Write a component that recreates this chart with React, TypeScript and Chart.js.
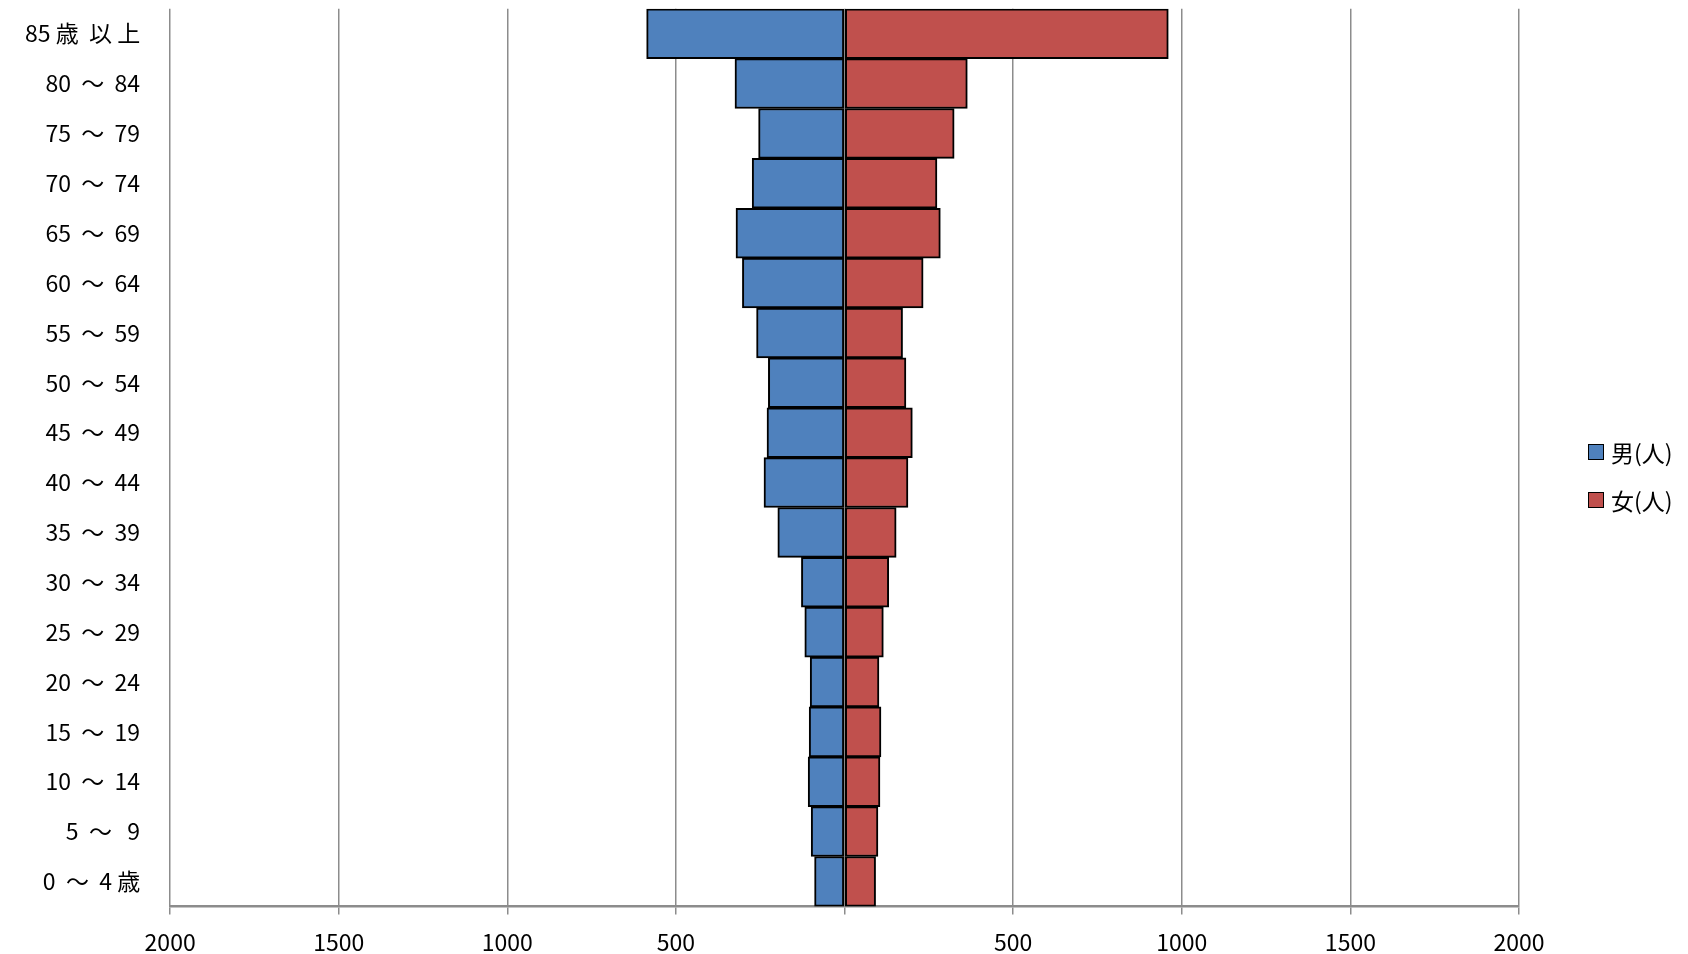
import React, { useEffect, useRef } from "react";
import { Chart, registerables } from "chart.js";
Chart.register(...registerables);

const categories = ["85 歳  以 上","80  ～  84","75  ～  79","70  ～  74","65  ～  69","60  ～  64","55  ～  59","50  ～  54","45  ～  49"," 40  ～  44","35  ～  39","30  ～  34","25  ～  29","20  ～  24","15  ～  19","10  ～  14","5  ～   9","0  ～  4 歳"];
const men = [587,325,255,274,322,303,261,226,230,239,198,128,118,102,105,108,99,89];
const women = [960,364,325,274,284,233,172,182,201,188,153,131,115,102,108,105,99,92];
const xTicks = [-2000,-1500,-1000,-500,0,500,1000,1500,2000];
const legendItems = [{ label: "男(人)", color: "#4f81bd" }, { label: "女(人)", color: "#c0504d" }];

const FONT = "'Noto Sans CJK JP', 'Noto Sans', sans-serif";
const SHIFT = 27;

export default function App() {
  const ref = useRef<HTMLCanvasElement>(null);
  useEffect(() => {
    document.body.style.margin = "0";
    const font = { family: FONT, size: 23 };
    const c = new Chart(ref.current!, {
      type: "bar",
      data: {
        labels: categories,
        datasets: [
          { label: legendItems[0].label, data: men.map(v => -v), backgroundColor: legendItems[0].color, borderColor: "#000", borderWidth: 2, borderSkipped: false },
          { label: legendItems[1].label, data: women, backgroundColor: legendItems[1].color, borderColor: "#000", borderWidth: 2, borderSkipped: false },
        ],
      },
      options: {
        indexAxis: "y",
        animation: false,
        responsive: false,
        layout: { padding: { top: 0, right: 169, bottom: -16, left: 3 } },
        datasets: { bar: { categoryPercentage: 1, barPercentage: 1 } },
        scales: {
          x: {
            min: -2000, max: 2000,
            afterBuildTicks: (a: any) => { a.ticks = xTicks.map(v => ({ value: v })); },
            ticks: { color: "#000", font, padding: 14, maxRotation: 0, callback: (v: any) => (v === 0 ? "" : String(Math.abs(v))) },
            grid: { color: "#8c8c8c", lineWidth: 1.5, drawTicks: true, tickLength: 8 },
            border: { color: "#8c8c8c", width: 2.5 },
          },
          y: {
            stacked: true,
            ticks: { color: "#000", font, padding: 22 },
            grid: { display: false },
            border: { display: false },
          },
        },
        plugins: { legend: { display: false }, tooltip: { enabled: false } },
      },
    });
    return () => c.destroy();
  }, []);
  return (
    <div style={{ width: 1688, height: 954, position: "relative", overflow: "hidden" }}>
      <canvas ref={ref} width={1688} height={954 + SHIFT} style={{ display: "block", marginTop: -SHIFT }} />
      <div style={{ position: "absolute", left: 1588, top: 428, fontFamily: FONT, fontSize: 23, color: "#000" }}>
        {legendItems.map(it => (
          <div key={it.label} style={{ display: "flex", alignItems: "center", height: 48 }}>
            <span style={{ width: 14, height: 14, background: it.color, border: "1px solid #000", marginRight: 7 }} />
            {it.label}
          </div>
        ))}
      </div>
    </div>
  );
}
